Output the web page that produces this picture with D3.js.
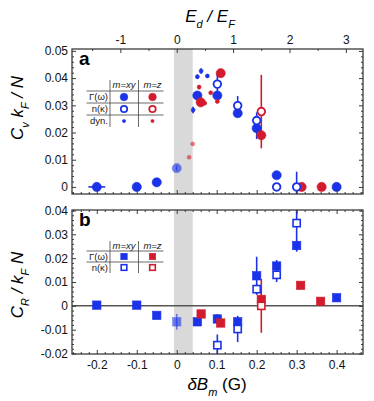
<!DOCTYPE html>
<html>
<head>
<meta charset="utf-8">
<script src="https://cdn.jsdelivr.net/npm/d3@7"></script>
<style>
  body { margin: 0; background: #fff; }
  svg { font-family: "Liberation Sans", Arial, sans-serif; }
</style>
</head>
<body>
<svg id="chart" width="374" height="401"></svg>
<script>
// rows are [dBm, value, yErr, xErr]
// panel a : C_v k_F / N
const aGammaXY = [[-0.2, 0, 0, 0.021], [-0.1, 0, 0], [-0.05, 0.0017, 0.0005], [0, 0.0069, 0.001],
  [0.0516, 0.0336, 0.001], [0.1016, 0.0336, 0.0012], [0.1525, 0.0271, 0.0008],
  [0.2, 0.0216, 0.004], [0.25, 0.0043, 0.001], [0.4, 0, 0]];
const aKappaXY = [[0.1016, 0.0378, 0.0038], [0.1525, 0.0299, 0.0035], [0.2, 0.0244, 0.003],
  [0.25, 0, 0], [0.3, 0, 0.0056]];
const aDynXY = [[0.041, 0.0283, 0.0012], [0.0516, 0.0405, 0.0008], [0.061, 0.0426, 0.001], [0.0766, 0.0408, 0.0005]];
const aGammaZ = [[0.06, 0.0311, 0.0008], [0.11, 0.0418, 0.001], [0.2116, 0.019, 0.001],
  [0.3125, 0, 0], [0.3625, 0, 0]];
const aKappaZ = [[0.2116, 0.0277, 0.0135]];
const aDynZ = [[0.031, 0.0109, 0], [0.04, 0.0158, 0], [0.056, 0.0367, 0.0008],
  [0.07, 0.0308, 0], [0.085, 0.0346, 0], [0.1016, 0.0314, 0]];

// panel b : C_R / k_F N
const bGammaXY = [[-0.2, 0.0003, 0], [-0.1, 0.0003, 0], [-0.05, -0.004, 0.001], [0, -0.0067, 0.0033],
  [0.0516, -0.0067, 0.001], [0.1016, -0.0055, 0.002], [0.1525, -0.0067, 0.0015],
  [0.2, 0.0126, 0.008], [0.25, 0.0167, 0.0025], [0.3, 0.0253, 0.002], [0.4, 0.0034, 0.001]];
const bKappaXY = [[0.1016, -0.0165, 0.0045], [0.1525, -0.0097, 0.0055], [0.2, 0.007, 0.002],
  [0.25, 0.013, 0.003], [0.3, 0.0347, 0.012]];
const bGammaZ = [[0.061, -0.0034, 0.001], [0.11, -0.0072, 0.001], [0.2116, 0.0027, 0.002],
  [0.31, 0.0086, 0.0012], [0.36, 0.0019, 0.0005]];
const bKappaZ = [[0.2116, 0, 0.0113]];

const xTicks = [-0.2, -0.1, 0, 0.1, 0.2, 0.3, 0.4];
const topTicks = [-1, 0, 1, 2, 3];
const aYTicks = [0, 0.01, 0.02, 0.03, 0.04, 0.05];
const bYTicks = [-0.02, -0.01, 0, 0.01, 0.02, 0.03, 0.04];
const shadedBand = [-0.007, 0.04];
const EdPerdB = 7.09;

const BLUE = "#1b33e8", RED = "#d21c2e", FRAME = "#3a3a3a";
const svg = d3.select("#chart");

const x = d3.scaleLinear().domain([-0.262, 0.466]).range([72, 363]);
const xTop = d3.scaleLinear().domain(x.domain().map(d => d * EdPerdB)).range(x.range());
const fmt = d => String(+d.toFixed(2));

const xMinor = d3.range(-13, 24).map(i => +(i * 0.02).toFixed(2)).filter(v => !xTicks.includes(v));
const topMinor = [-1.5, -0.5, 0.5, 1.5, 2.5];

function minorOf(ticks, lo, hi, step) {
  return d3.range(Math.ceil(lo / step), Math.floor(hi / step) + 1)
    .map(i => +(i * step).toFixed(4))
    .filter(v => !ticks.some(t => Math.abs(t - v) < 1e-9));
}

function styleAxis(g) {
  g.select(".domain").remove();
  g.selectAll(".tick line").attr("stroke", FRAME).attr("stroke-width", 1);
  g.selectAll(".tick text").attr("fill", "#111").style("font-size", "12px");
}

function drawMarker(sel, shape, filled, size, color) {
  if (shape === "circle") {
    sel.append("circle").attr("r", size)
      .attr("fill", filled ? color : "#fff")
      .attr("stroke", color).attr("stroke-width", filled ? 0.6 : 1.8);
  } else {
    sel.append("rect").attr("x", -size).attr("y", -size)
      .attr("width", 2 * size).attr("height", 2 * size)
      .attr("fill", filled ? color : "#fff")
      .attr("stroke", color).attr("stroke-width", filled ? 0.6 : 1.6);
  }
}

function drawPanel(p) {
  const y = d3.scaleLinear().domain(p.yDomain).range([p.bottom, p.top]);
  const g = svg.append("g");
  const clipId = "clip-" + p.name;
  svg.append("clipPath").attr("id", clipId).append("rect")
    .attr("x", x.range()[0]).attr("y", p.top)
    .attr("width", x.range()[1] - x.range()[0]).attr("height", p.bottom - p.top);

  g.append("rect")
    .attr("x", x(shadedBand[0])).attr("y", p.top)
    .attr("width", x(shadedBand[1]) - x(shadedBand[0])).attr("height", p.bottom - p.top)
    .attr("fill", "#d9d9d9");

  if (p.zeroLine) {
    g.append("line").attr("x1", x.range()[0]).attr("x2", x.range()[1])
      .attr("y1", y(0)).attr("y2", y(0))
      .attr("stroke", "#555").attr("stroke-width", 1.5);
  }

  const plot = g.append("g").attr("clip-path", `url(#${clipId})`);
  p.series.forEach(s => {
    const errs = plot.append("g");
    errs.selectAll("line.v").data(s.data.filter(d => d[2] > 0)).join("line")
      .attr("class", "v")
      .attr("x1", d => x(d[0])).attr("x2", d => x(d[0]))
      .attr("y1", d => y(d[1] - d[2])).attr("y2", d => y(d[1] + d[2]))
      .attr("stroke", s.color).attr("stroke-width", 1.6)
      .attr("opacity", d => d[0] <= 0.04 && d[0] > -0.01 ? 0.6 : 1);
    errs.selectAll("line.h").data(s.data.filter(d => d[3] > 0)).join("line")
      .attr("class", "h")
      .attr("x1", d => x(d[0] - d[3])).attr("x2", d => x(d[0] + d[3]))
      .attr("y1", d => y(d[1])).attr("y2", d => y(d[1]))
      .attr("stroke", s.color).attr("stroke-width", 1.6);
  });
  p.series.forEach(s => {
    plot.append("g").selectAll("g").data(s.data).join("g")
      .attr("transform", d => `translate(${x(d[0])},${y(d[1])})`)
      .attr("opacity", d => d[0] <= 0.04 && d[0] > -0.01 ? 0.6 : 1)
      .each(function () { drawMarker(d3.select(this), s.shape, s.filled, s.size, s.color); });
  });

  // axes, ticks pointing inward
  const yMinor = minorOf(p.yTicks, p.yDomain[0], p.yDomain[1], 0.002);
  g.append("g").attr("transform", `translate(${x.range()[0]},0)`)
    .call(d3.axisLeft(y).tickValues(p.yTicks).tickSize(-4).tickPadding(4).tickFormat(fmt)).call(styleAxis);
  g.append("g").attr("transform", `translate(${x.range()[0]},0)`)
    .call(d3.axisLeft(y).tickValues(yMinor).tickSize(-2).tickFormat("")).call(styleAxis);
  g.append("g").attr("transform", `translate(${x.range()[1]},0)`)
    .call(d3.axisRight(y).tickValues(p.yTicks).tickSize(-4).tickFormat("")).call(styleAxis);
  g.append("g").attr("transform", `translate(${x.range()[1]},0)`)
    .call(d3.axisRight(y).tickValues(yMinor).tickSize(-2).tickFormat("")).call(styleAxis);

  g.append("g").attr("transform", `translate(0,${p.bottom})`)
    .call(d3.axisBottom(x).tickValues(xTicks).tickSize(-4).tickPadding(6).tickFormat(p.xLabels ? fmt : ""))
    .call(styleAxis);
  g.append("g").attr("transform", `translate(0,${p.bottom})`)
    .call(d3.axisBottom(x).tickValues(xMinor).tickSize(-2).tickFormat("")).call(styleAxis);

  if (p.topAxis) {
    g.append("g").attr("transform", `translate(0,${p.top})`)
      .call(d3.axisTop(xTop).tickValues(topTicks).tickSize(-4).tickPadding(5).tickFormat(d3.format("d")))
      .call(styleAxis);
    g.append("g").attr("transform", `translate(0,${p.top})`)
      .call(d3.axisTop(xTop).tickValues(topMinor).tickSize(-2).tickFormat("")).call(styleAxis);
    g.selectAll(".tick text").filter(function () { return this.textContent.startsWith("−"); })
      .text(function () { return this.textContent.replace("−", "-"); });
  } else {
    g.append("g").attr("transform", `translate(0,${p.top})`)
      .call(d3.axisTop(x).tickValues(xTicks).tickSize(-4).tickFormat("")).call(styleAxis);
    g.append("g").attr("transform", `translate(0,${p.top})`)
      .call(d3.axisTop(x).tickValues(xMinor).tickSize(-2).tickFormat("")).call(styleAxis);
  }

  g.append("rect")
    .attr("x", x.range()[0]).attr("y", p.top)
    .attr("width", x.range()[1] - x.range()[0]).attr("height", p.bottom - p.top)
    .attr("fill", "none").attr("stroke", FRAME).attr("stroke-width", 1.3);

  g.append("text").attr("x", 79).attr("y", p.top + 16)
    .style("font-size", "19px").style("font-weight", "bold").text(p.name);

  // y title
  const t = g.append("text")
    .attr("transform", `translate(23,${p.titleY}) rotate(-90)`)
    .attr("text-anchor", "middle").style("font-size", "17px").style("font-style", "italic");
  p.title.forEach(([txt, sub]) => {
    const ts = t.append("tspan").text(txt);
    if (sub) ts.attr("baseline-shift", "sub").style("font-size", "11px");
  });

  drawLegend(g, p.legend);
}

function drawLegend(g, L) {
  const colX = [124, 152.5];
  const lg = g.append("g").style("font-size", "9.5px").attr("fill", "#222");
  const bottom = L.lines[L.lines.length - 1] + L.rows.length * 0 + L.rowH;
  lg.selectAll("line.v").data([110, 138.5]).join("line")
    .attr("x1", d => d).attr("x2", d => d).attr("y1", L.top).attr("y2", L.bottomY)
    .attr("stroke", "#444").attr("stroke-width", 0.8);
  lg.selectAll("line.h").data(L.lines).join("line")
    .attr("x1", 86.5).attr("x2", 163.5).attr("y1", d => d).attr("y2", d => d)
    .attr("stroke", "#444").attr("stroke-width", 0.8);
  ["m=xy", "m=z"].forEach((h, i) => {
    lg.append("text").attr("x", colX[i]).attr("y", L.top + 8.3)
      .attr("text-anchor", "middle").style("font-style", "italic").text(h);
  });
  L.rows.forEach((r, i) => {
    const cy = L.lines[0] + L.rowH * (i + 0.5);
    lg.append("text").attr("x", 108).attr("y", cy).attr("dy", "0.35em")
      .attr("text-anchor", "end").text(r.label);
    [BLUE, RED].forEach((c, j) => {
      drawMarker(lg.append("g").attr("transform", `translate(${colX[j]},${cy})`), L.shape, r.filled, r.size, c);
    });
  });
}

drawPanel({
  name: "a", top: 49, bottom: 194, yDomain: [-0.0026, 0.0507], yTicks: aYTicks,
  topAxis: true, xLabels: false, zeroLine: false, titleY: 108,
  title: [["C"], ["v", true], [" k"], ["F", true], [" / N"]],
  series: [
    { data: aGammaXY, color: BLUE, shape: "circle", filled: true, size: 4.6 },
    { data: aGammaZ, color: RED, shape: "circle", filled: true, size: 4.6 },
    { data: aKappaXY, color: BLUE, shape: "circle", filled: false, size: 3.8 },
    { data: aKappaZ, color: RED, shape: "circle", filled: false, size: 3.8 },
    { data: aDynXY, color: BLUE, shape: "circle", filled: true, size: 2 },
    { data: aDynZ, color: RED, shape: "circle", filled: true, size: 2 }
  ],
  legend: { shape: "circle", top: 80, bottomY: 127, lines: [91, 103, 115], rowH: 12,
    rows: [{ label: "Γ(ω)", filled: true, size: 3.8 }, { label: "n(κ)", filled: false, size: 3.2 },
      { label: "dyn.", filled: true, size: 1.6 }] }
});

drawPanel({
  name: "b", top: 210, bottom: 354, yDomain: [-0.0202, 0.0402], yTicks: bYTicks,
  topAxis: false, xLabels: true, zeroLine: true, titleY: 285,
  title: [["C"], ["R", true], [" / k"], ["F", true], [" N"]],
  series: [
    { data: bGammaXY, color: BLUE, shape: "square", filled: true, size: 4.2 },
    { data: bGammaZ, color: RED, shape: "square", filled: true, size: 4.2 },
    { data: bKappaXY, color: BLUE, shape: "square", filled: false, size: 3.6 },
    { data: bKappaZ, color: RED, shape: "square", filled: false, size: 3.6 }
  ],
  legend: { shape: "square", top: 241, bottomY: 273, lines: [251, 262], rowH: 11,
    rows: [{ label: "Γ(ω)", filled: true, size: 3.2 }, { label: "n(κ)", filled: false, size: 2.8 }] }
});

// axis titles
const topTitle = svg.append("text").attr("x", 210).attr("y", 22)
  .attr("text-anchor", "middle").style("font-size", "17px").style("font-style", "italic");
[["E"], ["d", true], [" / E"], ["F", true]].forEach(([txt, sub]) => {
  const ts = topTitle.append("tspan").text(txt);
  if (sub) ts.attr("baseline-shift", "sub").style("font-size", "11px");
});
const botTitle = svg.append("text").attr("x", 217).attr("y", 390)
  .attr("text-anchor", "middle").style("font-size", "17px");
botTitle.append("tspan").style("font-style", "italic").text("δB");
botTitle.append("tspan").attr("baseline-shift", "sub").style("font-size", "11px").style("font-style", "italic").text("m");
botTitle.append("tspan").text(" (G)");
</script>
</body>
</html>
